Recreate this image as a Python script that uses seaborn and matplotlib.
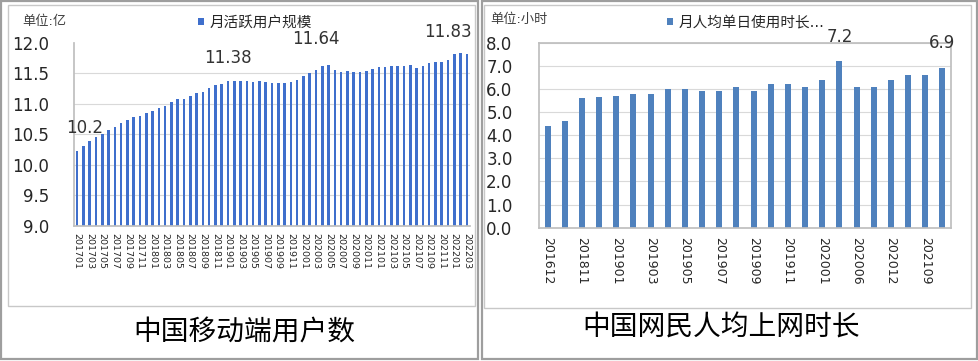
"""Two-panel bar chart: China mobile MAU and per-capita daily online hours."""

import matplotlib

matplotlib.use("Agg")

import matplotlib.pyplot as plt
import numpy as np
import seaborn as sns
from matplotlib.patches import Rectangle

# --- data ---------------------------------------------------------------
months = [f"{y}{m:02d}" for y in range(2017, 2023) for m in range(1, 13)][:63]
mau = [
    10.23, 10.31, 10.39, 10.45, 10.51, 10.57, 10.62, 10.68, 10.73, 10.79,
    10.80, 10.84, 10.88, 10.93, 10.97, 11.02, 11.07, 11.08, 11.12, 11.17,
    11.20, 11.25, 11.30, 11.32, 11.38, 11.38, 11.38, 11.38, 11.35, 11.38,
    11.35, 11.34, 11.34, 11.34, 11.36, 11.39, 11.46, 11.51, 11.56, 11.62,
    11.64, 11.55, 11.52, 11.54, 11.52, 11.52, 11.54, 11.57, 11.60, 11.60,
    11.62, 11.61, 11.62, 11.63, 11.58, 11.62, 11.66, 11.69, 11.69, 11.72,
    11.81, 11.83, 11.82,
]
mau_labels = {0: "10.2", 24: "11.38", 40: "11.64", 61: "11.83"}

usage_periods = [
    "201612", "201806", "201811", "201812", "201901", "201902", "201903",
    "201904", "201905", "201906", "201907", "201908", "201909", "201910",
    "201911", "201912", "202001", "202003", "202006", "202009", "202012",
    "202106", "202109", "202112",
]
usage_hours = [
    4.4, 4.6, 5.6, 5.65, 5.7, 5.8, 5.8, 6.0, 6.0, 5.9, 5.9, 6.1,
    5.9, 6.2, 6.2, 6.1, 6.4, 7.2, 6.1, 6.1, 6.4, 6.6, 6.6, 6.9,
]

# --- style --------------------------------------------------------------
sns.set_theme(style="white")
plt.rcParams["font.family"] = ["DejaVu Sans", "Noto Sans CJK SC"]

W, H = 979, 361
GRID = "#D9D9D9"
SPINE = "#BFBFBF"


def px_rect(x0, y0, x1, y1):
    """Figure-fraction rect from pixel box (y measured from top)."""
    return [x0 / W, 1 - y1 / H, (x1 - x0) / W, (y1 - y0) / H]


def frame(fig, x0, y0, x1, y1, color, lw):
    l, b, w, h = px_rect(x0, y0, x1, y1)
    fig.patches.append(Rectangle((l, b), w, h, transform=fig.transFigure,
                                 fill=False, ec=color, lw=lw))


fig = plt.figure(figsize=(W / 100, H / 100), dpi=100)
fig.patch.set_facecolor("white")

frame(fig, 1, 1, 478, 359, "#9E9E9E", 1.6)
frame(fig, 8, 5, 475, 306, "#C8C8C8", 1.0)
frame(fig, 482, 1, 977, 359, "#9E9E9E", 1.6)
frame(fig, 484, 5, 971, 308, "#C8C8C8", 1.0)

# --- left panel ---------------------------------------------------------
ax1 = fig.add_axes(px_rect(74, 42.7, 470, 225.7))
sns.barplot(x=months, y=mau, color="#3F6FCC", saturation=1, width=0.4,
            linewidth=0, ax=ax1, label="月活跃用户规模")
ax1.set_xlim(-0.5, len(months) - 0.5)
ax1.set_ylim(9.0, 12.0)
yt1 = np.arange(9.0, 12.01, 0.5)
ax1.set_yticks(yt1)
ax1.set_yticklabels([f"{v:.1f}" for v in yt1], fontsize=12)
ax1.set_xticks(range(0, len(months), 2))
ax1.set_xticklabels(months[::2], rotation=270, fontsize=6.8)
ax1.tick_params(axis="x", length=0, pad=5)
ax1.tick_params(axis="y", direction="in", length=5, color=SPINE, pad=18)
ax1.grid(axis="y", color=GRID, lw=0.8)
ax1.yaxis.get_gridlines()[-1].set_visible(False)
ax1.set_axisbelow(True)
for s in ["top", "right"]:
    ax1.spines[s].set_visible(False)
for s in ["left", "bottom"]:
    ax1.spines[s].set_color(SPINE)
ax1.set_xlabel("")
ax1.set_ylabel("")

label_pos = {0: (1.2, 10.45), 24: (24, 11.60), 40: (38, 11.91), 61: (59, 12.02)}
for i, txt in mau_labels.items():
    x, y = label_pos[i]
    ax1.text(x, y, txt, ha="center", va="bottom", fontsize=12,
             color="#333333", clip_on=False)

ax1.legend(loc="center left", bbox_to_anchor=(198 / W, 1 - 22 / H),
           bbox_transform=fig.transFigure, frameon=False, fontsize=10.5,
           handlelength=0.4, handleheight=0.4, handletextpad=0.4,
           borderpad=0, borderaxespad=0)
fig.text(22 / W, 1 - 22 / H, "单位:亿", ha="left", va="center", fontsize=9.5,
         color="#404040")
fig.text(244 / W, 1 - 332 / H, "中国移动端用户数", ha="center", va="center",
         fontsize=20, color="black")

# --- right panel --------------------------------------------------------
ax2 = fig.add_axes(px_rect(539, 42.7, 951, 227.7))
sns.barplot(x=usage_periods, y=usage_hours, color="#4F81BD", saturation=1,
            width=0.35, linewidth=0, ax=ax2, label="月人均单日使用时长...")
ax2.set_xlim(-0.5, len(usage_periods) - 0.5)
ax2.set_ylim(0, 8)
yt2 = np.arange(0, 8.01, 1)
ax2.set_yticks(yt2)
ax2.set_yticklabels([f"{v:.1f}" for v in yt2], fontsize=12)
ax2.set_xticks(range(0, len(usage_periods), 2))
ax2.set_xticklabels(usage_periods[::2], rotation=270, fontsize=9)
ax2.tick_params(axis="x", length=0, pad=7)
ax2.tick_params(axis="y", direction="in", length=0.01, pad=19)
ax2.grid(axis="y", color=GRID, lw=0.8)
ax2.set_axisbelow(True)
for s in ax2.spines.values():
    s.set_color(SPINE)
    s.set_visible(True)
ax2.set_xlabel("")
ax2.set_ylabel("")

for i, y in [(17, 7.86), (23, 7.6)]:
    ax2.text(i, y, f"{usage_hours[i]:.1f}", ha="center", va="bottom",
             fontsize=12, color="#333333", clip_on=False)

ax2.legend(loc="center left", bbox_to_anchor=(667 / W, 1 - 22 / H),
           bbox_transform=fig.transFigure, frameon=False, fontsize=10.5,
           handlelength=0.4, handleheight=0.4, handletextpad=0.4,
           borderpad=0, borderaxespad=0)
fig.text(490 / W, 1 - 20 / H, "单位:小时", ha="left", va="center", fontsize=9.5,
         color="#404040")
fig.text(721 / W, 1 - 328 / H, "中国网民人均上网时长", ha="center", va="center",
         fontsize=20, color="black")

fig.savefig("out.png", dpi=100)
plt.close(fig)
